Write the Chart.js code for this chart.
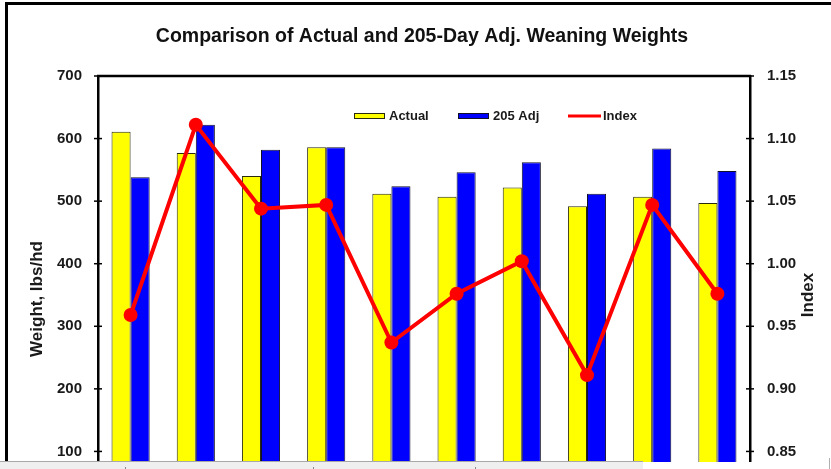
<!DOCTYPE html>
<html>
<head>
<meta charset="utf-8">
<script src="https://cdn.jsdelivr.net/npm/chart.js@4/dist/chart.umd.min.js"></script>
<style>
  html, body { margin: 0; padding: 0; background: #fff; overflow: hidden; }
  #wrap { position: relative; width: 831px; height: 469px; overflow: hidden; }
  #chart { position: absolute; left: 0; top: 0; }
  #frame { position: absolute; left: 5px; top: 2px; width: 850px; height: 500px;
           border-left: 3px solid #000; border-top: 3px solid #000; pointer-events: none; }
  #strip { position: absolute; left: 0; top: 461px; width: 643px; height: 8px;
           background: #efefef; border-top: 1px solid #a8a8a8; }
  #fill { position: absolute; left: 643px; top: 462px; width: 188px; height: 7px; background: #fff; }
  #edge { position: absolute; left: 829px; top: 458px; width: 1px; height: 11px; background: #b0b0b0; }
  .mk { position: absolute; top: 5px; width: 1px; height: 3px; background: #888; }
</style>
</head>
<body>
<div id="wrap">
  <canvas id="chart" width="831" height="540"></canvas>
  <div id="frame"></div>
  <div id="strip">
    <div class="mk" style="left:125px"></div>
    <div class="mk" style="left:313px"></div>
    <div class="mk" style="left:475px"></div>
  </div>
  <div id="fill"></div>
  <div id="edge"></div>
</div>
<script>
// Calf groups along the x axis
const categories = ['1', '2', '3', '4', '5', '6', '7', '8', '9', '10'];

// Weaning weights, lbs/hd
const actualWeights = [611, 577, 540, 586, 512, 507, 522, 492, 507, 497];
const adjWeights205 = [538, 622, 582, 586, 524, 546, 562, 512, 584, 548];

// Index (right axis)
const indexValues = [0.959, 1.111, 1.044, 1.047, 0.937, 0.976, 1.002, 0.911, 1.047, 0.976];

// Axis ranges
const weightAxis = { min: 0, max: 700, step: 100 };
const indexAxis = { min: 0.80, max: 1.15, step: 0.05 };

// Titles
const chartTitle = 'Comparison of Actual and 205-Day Adj. Weaning Weights';
const weightTitle = 'Weight, lbs/hd';
const indexTitle = 'Index';

const FONT = 'Liberation Sans, Arial, Helvetica, sans-serif';
const TEXT = '#1a1a1a';

// Chart title, plot frame top line, crossing tick marks, in-plot legend and axis titles
const decorations = {
  id: 'decorations',
  afterDraw(chart) {
    const ctx = chart.ctx;
    const area = chart.chartArea;
    ctx.save();

    // chart title
    ctx.font = 'bold 19.5px ' + FONT;
    ctx.fillStyle = '#111';
    ctx.textAlign = 'center';
    ctx.textBaseline = 'middle';
    ctx.fillText(chartTitle, 422, 37);

    // top edge of the plot area
    ctx.strokeStyle = '#000';
    ctx.lineWidth = 2.5;
    ctx.beginPath();
    ctx.moveTo(area.left - 1, area.top);
    ctx.lineTo(area.right + 1, area.top);
    ctx.stroke();

    // tick marks crossing both value axes
    ctx.lineWidth = 1.5;
    [['y', area.left], ['y1', area.right]].forEach(([id, x]) => {
      const sc = chart.scales[id];
      sc.ticks.forEach(t => {
        const py = sc.getPixelForValue(t.value);
        ctx.beginPath();
        ctx.moveTo(x - 4, py);
        ctx.lineTo(x + 4, py);
        ctx.stroke();
      });
    });

    // legend
    const legendX = [354, 458, 568];
    const legendY = 116;
    ctx.font = 'bold 13px ' + FONT;
    ctx.textAlign = 'left';
    chart.data.datasets.forEach((ds, i) => {
      const x = legendX[i];
      if (ds.type === 'line') {
        ctx.strokeStyle = ds.borderColor;
        ctx.lineWidth = 3;
        ctx.beginPath();
        ctx.moveTo(x, legendY);
        ctx.lineTo(x + 33, legendY);
        ctx.stroke();
      } else {
        ctx.fillStyle = ds.backgroundColor;
        ctx.fillRect(x, legendY - 3, 31, 6);
        ctx.strokeStyle = ds.borderColor;
        ctx.lineWidth = 1;
        ctx.strokeRect(x + 0.5, legendY - 2.5, 30, 5);
      }
      ctx.fillStyle = TEXT;
      ctx.fillText(ds.label, x + 35, legendY);
    });

    // axis titles, both reading bottom to top
    ctx.font = 'bold 17px ' + FONT;
    ctx.textAlign = 'center';
    ctx.fillStyle = TEXT;
    const mid = (area.top + area.bottom) / 2;
    [[37, mid + 4, weightTitle], [808, mid, indexTitle]].forEach(([x, y, txt]) => {
      ctx.save();
      ctx.translate(x, y);
      ctx.rotate(-Math.PI / 2);
      ctx.fillText(txt, 0, 0);
      ctx.restore();
    });

    ctx.restore();
  }
};

const barShape = { borderWidth: 1, categoryPercentage: 0.585, barPercentage: 1.0, yAxisID: 'y', order: 1 };

new Chart(document.getElementById('chart'), {
  type: 'bar',
  data: {
    labels: categories,
    datasets: [
      Object.assign({ type: 'bar', label: 'Actual', data: actualWeights,
        backgroundColor: '#ffff00', borderColor: '#2a2a10' }, barShape),
      Object.assign({ type: 'bar', label: '205 Adj', data: adjWeights205,
        backgroundColor: '#0000ff', borderColor: '#101028' }, barShape),
      { type: 'line', label: 'Index', data: indexValues, yAxisID: 'y1', order: 0,
        borderColor: '#ff0000', backgroundColor: '#ff0000', borderWidth: 4,
        pointRadius: 7, pointBorderWidth: 0, pointBackgroundColor: '#ff0000', tension: 0 }
    ]
  },
  options: {
    responsive: false,
    animation: false,
    events: [],
    layout: { padding: { left: 0, right: 0, top: 76, bottom: 0 } },
    plugins: {
      legend: { display: false },
      tooltip: { enabled: false },
      title: { display: false }
    },
    scales: {
      x: {
        ticks: { display: false },
        grid: { display: false, drawTicks: false },
        border: { display: true, color: '#000', width: 2.5 },
        afterFit(s) { s.height = 18; }
      },
      y: {
        position: 'left',
        min: weightAxis.min, max: weightAxis.max,
        ticks: { stepSize: weightAxis.step, padding: 16, color: TEXT,
                 font: { family: FONT, size: 15, weight: 'bold' } },
        grid: { display: false, drawTicks: false },
        border: { display: true, color: '#000', width: 2.5 },
        afterFit(s) { s.width = 98; }
      },
      y1: {
        position: 'right',
        min: indexAxis.min, max: indexAxis.max,
        ticks: { stepSize: indexAxis.step, padding: 17, color: TEXT,
                 font: { family: FONT, size: 15, weight: 'bold' },
                 callback: v => Number(v).toFixed(2) },
        grid: { display: false, drawTicks: false },
        border: { display: true, color: '#000', width: 2.5 },
        afterFit(s) { s.width = 81; }
      }
    }
  },
  plugins: [decorations]
});
</script>
</body>
</html>
